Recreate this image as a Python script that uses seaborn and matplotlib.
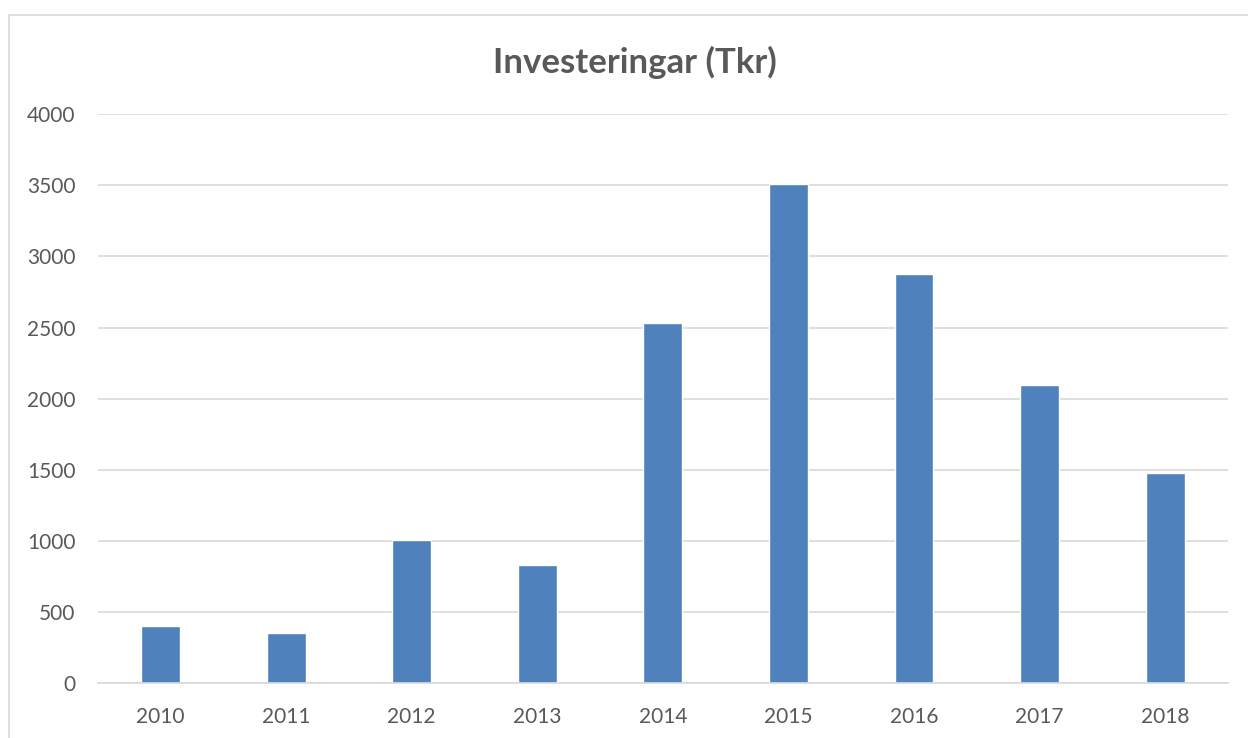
import numpy as np
import pandas as pd
import seaborn as sns
import matplotlib.pyplot as plt
from matplotlib.patches import Rectangle

years = ["2010", "2011", "2012", "2013", "2014", "2015", "2016", "2017",
         "2018"]
invest = [400, 355, 1005, 830, 2530, 3510, 2880, 2095, 1475]
yticks = [0, 500, 1000, 1500, 2000, 2500, 3000, 3500, 4000]

df = pd.DataFrame({"year": years, "invest": invest})

sns.set_style("white")
plt.rcParams["font.family"] = ["Lato", "DejaVu Sans"]

grey_text = "#595959"
grid_col = "#D9D9D9"

fig = plt.figure(figsize=(12.48, 7.38), dpi=100)
ax = fig.add_axes([97.7 / 1248, 1 - 683 / 738, (1228 - 97.7) / 1248,
                   (683 - 114.3) / 738])

sns.barplot(data=df, x="year", y="invest", color="#4F81BD", width=0.31,
            saturation=1, ax=ax)

ax.set_ylim(0, 4000)
ax.set_xlim(-0.5, len(years) - 0.5)
ax.set_yticks(yticks)
ax.yaxis.grid(True, color=grid_col, linewidth=1.2)
ax.set_axisbelow(True)
ax.set_xlabel("")
ax.set_ylabel("")
for s in ["top", "right", "left"]:
    ax.spines[s].set_visible(False)
ax.spines["bottom"].set_color(grid_col)
ax.spines["bottom"].set_linewidth(1.2)
ax.tick_params(axis="both", length=0, labelsize=15, labelcolor=grey_text)
ax.tick_params(axis="y", pad=16)
ax.tick_params(axis="x", pad=17)

fig.text(634.5 / 1248, 1 - 62 / 738,
         "Investeringar (Tkr)", ha="center", va="center", fontsize=25,
         fontweight="bold", color=grey_text)

fig.patches.append(Rectangle((9 / 1248, -0.1), 1.2, 1.1 - 15 / 738,
                             transform=fig.transFigure, fill=False,
                             edgecolor=grid_col, linewidth=1.2))

plt.savefig("out.png", dpi=100)
plt.close("all")
